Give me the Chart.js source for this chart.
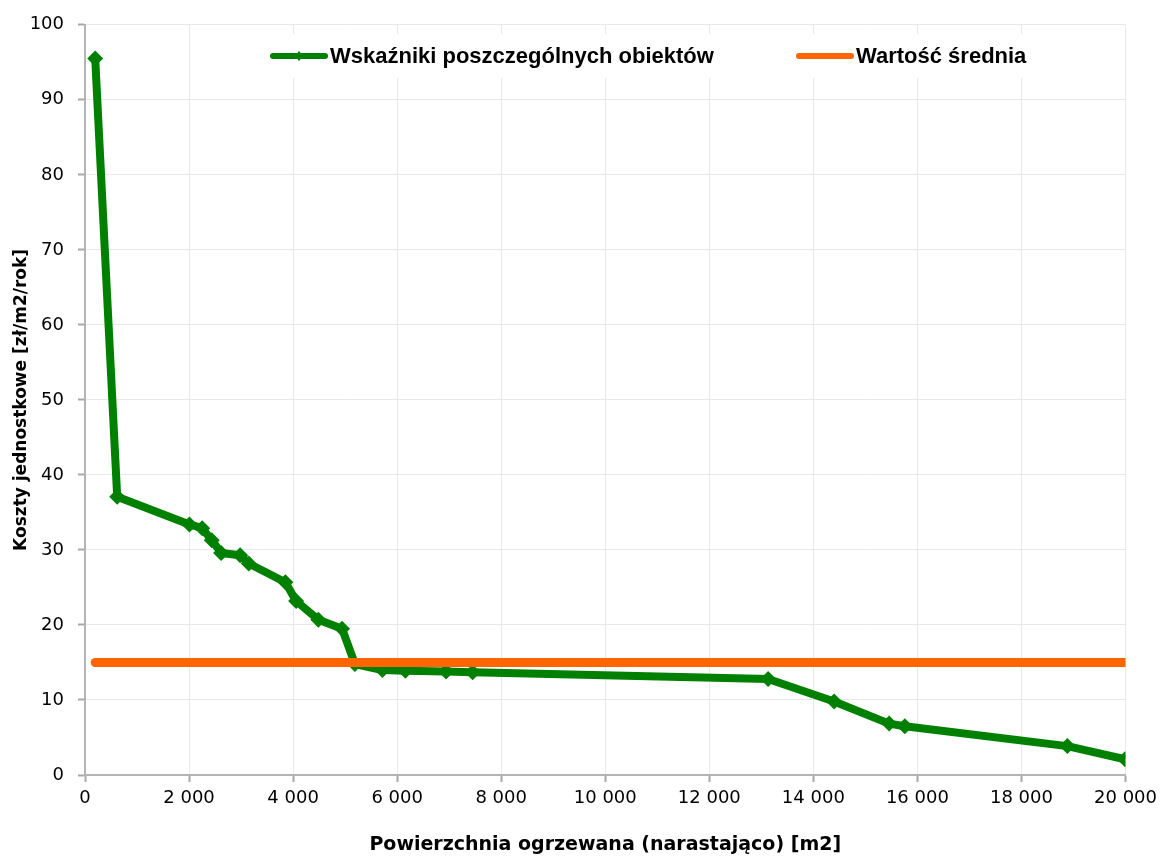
<!DOCTYPE html>
<html lang="pl">
<head>
  <meta charset="UTF-8">
  <title>Koszty jednostkowe ogrzewania</title>
  <script src="https://cdn.jsdelivr.net/npm/chart.js"></script>
  <style>
    html, body { margin: 0; padding: 0; background: #fff; }
    #wrap { width: 1163px; height: 860px; }
  </style>
</head>
<body>
  <div id="wrap"><canvas id="costChart" width="1163" height="860"></canvas></div>

<script>
  // powierzchnia ogrzewana narastająco [m2]
  const areaCum = [196, 619, 2008, 2252, 2436, 2617, 2982, 3147, 3852, 4058, 4486, 4941,
                   5187, 5716, 6158, 6940, 7450, 13131, 14399, 15456, 15758, 18882, 19990];
  // wskaźnik kosztów poszczególnych obiektów [zł/m2/rok]
  const unitCost = [95.5, 37.1, 33.4, 32.9, 31.3, 29.6, 29.3, 28.2, 25.7, 23.2, 20.7, 19.5,
                    14.8, 14.0, 13.9, 13.8, 13.7, 12.8, 9.8, 6.85, 6.5, 3.85, 2.1];
  const meanCost = 15;

  const xTicks = [0, 2000, 4000, 6000, 8000, 10000, 12000, 14000, 16000, 18000, 20000];
  const yTicks = [0, 10, 20, 30, 40, 50, 60, 70, 80, 90, 100];

  const objects = areaCum.map((x, i) => ({ x, y: unitCost[i] }));
  const meanLine = [
    { x: areaCum[0], y: meanCost },
    { x: areaCum[areaCum.length - 1], y: meanCost }
  ];

  const fmt = v => String(v).replace(/\B(?=(\d{3})+(?!\d))/g, ' ');

  // legenda rysowana wewnątrz obszaru wykresu, na białym tle
  const insideLegend = {
    id: 'insideLegend',
    afterDatasetsDraw(chart) {
      const ctx = chart.ctx;
      const ds = chart.data.datasets;
      const items = [
        { d: ds[1], x: 270, marker: true },
        { d: ds[0], x: 796, marker: false }
      ];
      const y = 56;
      ctx.save();
      ctx.fillStyle = '#fff';
      ctx.fillRect(262, 34, 774, 44);
      ctx.lineCap = 'round';
      items.forEach(it => {
        ctx.strokeStyle = it.d.borderColor;
        ctx.lineWidth = 6;
        ctx.beginPath();
        ctx.moveTo(it.x + 3, y);
        ctx.lineTo(it.x + 55, y);
        ctx.stroke();
        if (it.marker) {
          const cx = it.x + 29;
          ctx.fillStyle = it.d.borderColor;
          ctx.beginPath();
          ctx.moveTo(cx, y - 5);
          ctx.lineTo(cx + 4, y);
          ctx.lineTo(cx, y + 5);
          ctx.lineTo(cx - 4, y);
          ctx.closePath();
          ctx.fill();
        }
        ctx.fillStyle = '#000';
        ctx.font = 'bold 22px "Liberation Sans", Arial, sans-serif';
        ctx.textBaseline = 'middle';
        ctx.textAlign = 'left';
        ctx.fillText(it.d.label, it.x + 60, y + 1);
      });
      ctx.restore();
    }
  };

  new Chart(document.getElementById('costChart'), {
    type: 'line',
    data: {
      datasets: [{
        label: 'Wartość średnia',
        data: meanLine,
        borderColor: '#ff6600',
        backgroundColor: '#ff6600',
        borderWidth: 9,
        borderCapStyle: 'round',
        pointRadius: 0,
        order: 0
      }, {
        label: 'Wskaźniki poszczególnych obiektów',
        data: objects,
        borderColor: '#008000',
        backgroundColor: '#008000',
        borderWidth: 8,
        borderJoinStyle: 'round',
        pointStyle: 'rectRot',
        pointRadius: 8,
        pointBorderWidth: 0,
        pointBackgroundColor: '#008000',
        tension: 0,
        order: 1
      }]
    },
    options: {
      responsive: false,
      animation: false,
      layout: { padding: { top: 21, right: 37, left: 0, bottom: 0 } },
      plugins: {
        legend: { display: false },
        tooltip: { enabled: false }
      },
      scales: {
        x: {
          type: 'linear',
          min: 0,
          max: 20000,
          afterFit: s => { s.height = 85; },
          afterBuildTicks: s => { s.ticks = xTicks.map(v => ({ value: v })); },
          ticks: {
            callback: fmt,
            maxRotation: 0,
            autoSkip: false,
            padding: 6,
            color: '#000',
            font: { family: '"DejaVu Sans", sans-serif', size: 18 }
          },
          grid: { color: '#e8e8e8', tickColor: '#a8a8a8', tickLength: 7, tickWidth: 2 },
          border: { color: '#b4b4b4', width: 2 },
          title: {
            display: true,
            text: 'Powierzchnia ogrzewana (narastająco) [m2]',
            color: '#000',
            padding: { top: 0, bottom: 4 },
            font: { family: '"DejaVu Sans", sans-serif', size: 19, weight: 'bold' }
          }
        },
        y: {
          min: 0,
          max: 100,
          afterFit: s => { s.width = 85; },
          afterBuildTicks: s => { s.ticks = yTicks.map(v => ({ value: v })); },
          ticks: {
            padding: 14,
            color: '#000',
            font: { family: '"DejaVu Sans", sans-serif', size: 18 }
          },
          grid: { color: '#e8e8e8', tickColor: '#a8a8a8', tickLength: 7, tickWidth: 2 },
          border: { color: '#b4b4b4', width: 2 },
          title: {
            display: true,
            text: 'Koszty jednostkowe [zł/m2/rok]',
            color: '#000',
            padding: { top: 11, bottom: 0 },
            font: { family: '"DejaVu Sans", sans-serif', size: 17, weight: 'bold' }
          }
        }
      }
    },
    plugins: [insideLegend]
  });
</script>
</body>
</html>
